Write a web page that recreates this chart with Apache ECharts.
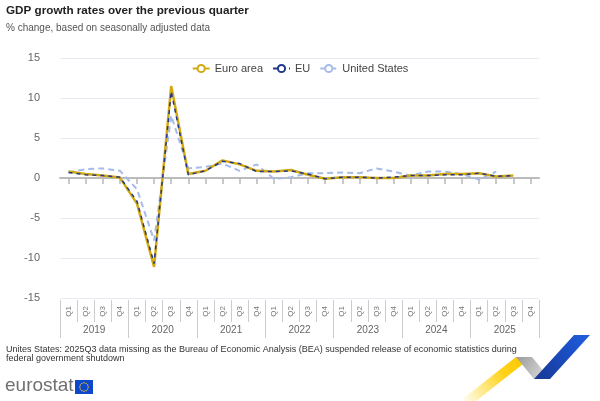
<!DOCTYPE html>
<html><head><meta charset="utf-8">
<script src="https://cdn.jsdelivr.net/npm/echarts@6/dist/echarts.min.js"></script>
<style>html,body{margin:0;padding:0;background:#fff}#c{width:600px;height:401px}</style>
</head><body><div id="c"></div>
<script>
const years = ['2019','2020','2021','2022','2023','2024','2025'];
const quarters = ['Q1','Q2','Q3','Q4'];
const categories = [];
years.forEach(y => quarters.forEach(q => categories.push(y + q)));
const quarterLabels = [];
years.forEach(() => quarters.forEach(q => quarterLabels.push(q)));

const euroArea = [0.8,0.5,0.3,0.05,-3.2,-11.1,11.5,0.5,0.9,2.2,1.7,0.9,0.8,1.0,0.4,-0.1,0.1,0.1,0.0,0.0,0.3,0.3,0.5,0.5,0.6,0.2,0.3,null];
const eu       = [0.7,0.4,0.3,0.1,-2.9,-10.7,10.8,0.4,0.9,2.1,1.8,0.8,0.8,0.9,0.5,-0.1,0.1,0.1,0.0,0.1,0.3,0.3,0.4,0.4,0.6,0.2,0.3,null];
const us       = [0.7,1.1,1.2,0.9,-1.4,-7.8,7.8,1.2,1.4,1.8,0.9,1.7,-0.1,0.1,0.6,0.6,0.7,0.6,1.2,0.8,0.3,0.8,0.8,0.5,-0.2,0.8,null,null];

const yTicks = [-15,-10,-5,0,5,10,15];

const chart = echarts.init(document.getElementById('c'), null, {renderer:'canvas'});

const stars = [];
for (let k = 0; k < 12; k++) {
  const a = k * Math.PI / 6;
  stars.push({type:'circle', shape:{cx:84 + 4.2*Math.cos(a), cy:387 + 4.2*Math.sin(a), r:0.7}, style:{fill:'#ffd617'}, silent:true});
}

chart.setOption({
  animation:false,
  title:{
    text:'GDP growth rates over the previous quarter',
    subtext:'% change, based on seasonally adjusted data',
    left:1, top:0,
    textStyle:{fontFamily:'Liberation Sans, Arial, sans-serif', fontSize:11.7, fontWeight:'bold', color:'#222'},
    subtextStyle:{fontFamily:'Liberation Sans, Arial, sans-serif', fontSize:10, color:'#555'},
    itemGap:6
  },
  legend:{
    top:58, left:'center',
    itemWidth:17, itemHeight:9, itemGap:9,
    textStyle:{fontFamily:'Liberation Sans, Arial, sans-serif', fontSize:11, color:'#444'},
    data:['Euro area','EU','United States']
  },
  grid:{left:60, right:61, top:58, bottom:103},
  xAxis:[
    {type:'category', data:categories, boundaryGap:true, position:'bottom',
     axisLine:{show:true, onZero:true, lineStyle:{color:'#bbbbbb', width:2}},
     axisTick:{show:true, interval:0, alignWithLabel:true, length:6, lineStyle:{color:'#b8b8b8', width:1.5}},
     axisLabel:{show:true, interval:0, color:'rgba(0,0,0,0)', fontSize:1}, splitLine:{show:false}},
    {type:'category', data:quarterLabels, position:'bottom', offset:2, boundaryGap:true,
     axisLine:{show:false},
     axisTick:{show:true, interval:0, length:22, lineStyle:{color:'#cccccc'}},
     axisLabel:{interval:0, rotate:90, margin:6, fontSize:8, color:'#777', fontFamily:'Liberation Sans, Arial, sans-serif'}},
    {type:'category', data:years, position:'bottom', offset:2, boundaryGap:true,
     axisLine:{show:false},
     axisTick:{show:true, interval:0, length:38, lineStyle:{color:'#cccccc'}},
     axisLabel:{interval:0, margin:25, fontSize:10, color:'#666', fontFamily:'Liberation Sans, Arial, sans-serif'}}
  ],
  yAxis:{type:'value', min:yTicks[0], max:yTicks[yTicks.length-1], interval:5,
    axisLine:{show:false}, axisTick:{show:false},
    axisLabel:{margin:20, fontSize:11, color:'#666', fontFamily:'Liberation Sans, Arial, sans-serif'},
    splitLine:{lineStyle:{color:'#e8ebf3', width:1}}},
  series:[
    {name:'Euro area', type:'line', data:euroArea, symbol:'emptyCircle', symbolSize:8, showSymbol:false, z:3,
     itemStyle:{color:'#d3a912'}, lineStyle:{color:'#d3a912', width:2.5}},
    {name:'EU', type:'line', data:eu, symbol:'emptyCircle', symbolSize:8, showSymbol:false, z:4,
     itemStyle:{color:'#22398c'}, lineStyle:{color:'#22398c', width:1.5, type:[4,4]}},
    {name:'United States', type:'line', data:us, symbol:'emptyCircle', symbolSize:8, showSymbol:false, z:2,
     itemStyle:{color:'#a6bbea'}, lineStyle:{color:'#a6bbea', width:2, type:[6,4]}}
  ],
  graphic:[
    {type:'text', left:6, top:345, silent:true,
     style:{text:'Unites States: 2025Q3 data missing as the Bureau of Economic Analysis (BEA) suspended release of economic statistics during\nfederal government shutdown',
       font:'9px "Liberation Sans Narrow", "Arial Narrow", sans-serif', fill:'#333', lineHeight:9}},
    {type:'text', left:5, top:376, silent:true,
     style:{text:'eurostat', font:'19px "Liberation Sans", Arial, sans-serif', fill:'#707070'}},
    {type:'rect', shape:{x:75, y:380, width:18, height:14}, style:{fill:'#0e47cb'}, silent:true},
    ...stars,
    {type:'polygon', shape:{points:[[460,401],[476,401],[532,357],[516,357]]}, silent:true,
     style:{fill:{type:'linear', x:0, y:1, x2:1, y2:0, colorStops:[{offset:0,color:'rgba(255,214,23,0)'},{offset:0.6,color:'#ffd21a'},{offset:1,color:'#f7c600'}]}}},
    {type:'polygon', shape:{points:[[516,357],[532,357],[550,379],[534,379]]}, silent:true,
     style:{fill:{type:'linear', x:0, y:0, x2:1, y2:1, colorStops:[{offset:0,color:'#9a9a9a'},{offset:1,color:'#e4e4e4'}]}}},
    {type:'polygon', shape:{points:[[534,379],[550,379],[590,335],[574,335]]}, silent:true,
     style:{fill:{type:'linear', x:0, y:1, x2:1, y2:0, colorStops:[{offset:0,color:'#163796'},{offset:1,color:'#1f5ee0'}]}}}
  ]
});
</script></body></html>
